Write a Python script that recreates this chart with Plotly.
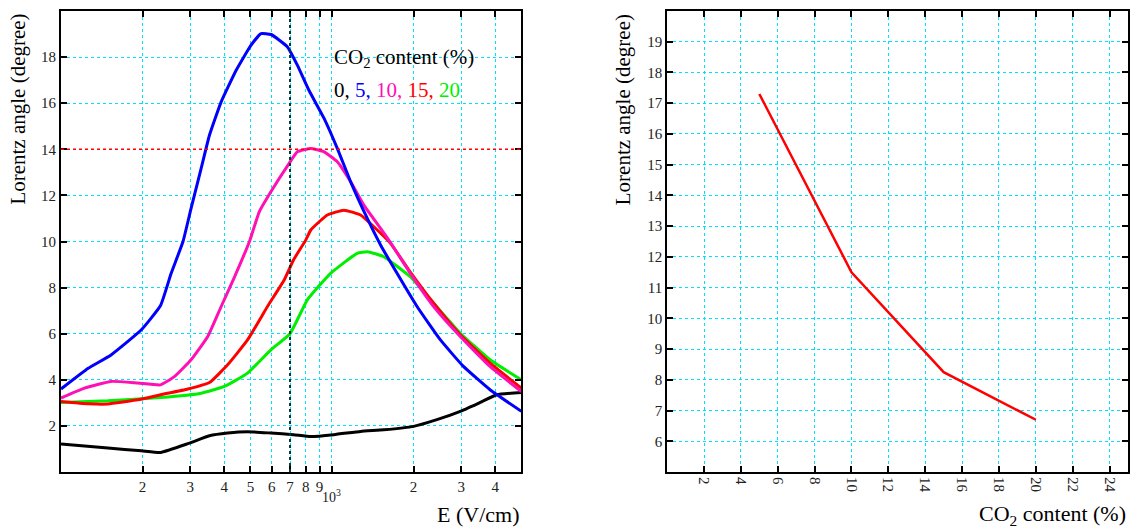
import plotly.graph_objects as go

# ---------------- data ----------------
E0 = [100, 149, 198, 233, 294, 353, 412, 488, 595, 721, 835, 1016, 1275, 1553, 2000, 2438, 2974, 3525, 4056, 5000]
A0 = [1.21, 1.04, 0.92, 0.85, 1.23, 1.57, 1.69, 1.75, 1.69, 1.62, 1.54, 1.62, 1.76, 1.83, 1.98, 2.27, 2.63, 3.02, 3.35, 3.45]

E5 = [100, 126, 153, 198, 233, 255, 282, 302, 329, 353, 390, 443, 502, 547, 596, 685, 745, 822, 935, 1046, 1172, 1350, 1511, 1738, 2060, 2513, 3055, 3830, 5000]
A5 = [3.6, 4.5, 5.08, 6.17, 7.22, 8.62, 10.0, 11.44, 13.17, 14.61, 16.06, 17.43, 18.51, 19.02, 18.98, 18.44, 17.65, 16.56, 15.34, 14.04, 12.59, 11.0, 9.85, 8.62, 7.18, 5.73, 4.58, 3.57, 2.63]

E10 = [100, 122, 153, 192, 233, 262, 302, 348, 390, 437, 496, 539, 595, 695, 745, 835, 935, 1046, 1172, 1311, 1511, 1667, 1945, 2372, 2974, 3830, 5000]
A10 = [3.21, 3.64, 3.93, 3.86, 3.78, 4.14, 4.87, 5.88, 7.18, 8.47, 10.0, 11.29, 12.16, 13.39, 13.89, 14.04, 13.89, 13.46, 12.59, 11.58, 10.57, 9.85, 8.62, 7.18, 5.88, 4.58, 3.49]

E15 = [100, 126, 149, 192, 233, 294, 353, 412, 488, 578, 666, 721, 800, 835, 961, 1107, 1275, 1427, 1644, 1919, 2372, 2974, 3830, 5000]
A15 = [3.06, 2.96, 2.95, 3.13, 3.35, 3.6, 3.88, 4.65, 5.73, 7.18, 8.33, 9.2, 10.06, 10.5, 11.15, 11.36, 11.15, 10.64, 9.92, 8.77, 7.32, 5.95, 4.72, 3.64]

E20 = [100, 149, 233, 329, 401, 488, 595, 700, 811, 988, 1239, 1350, 1553, 1945, 2372, 2974, 3830, 5000]
A20 = [3.02, 3.09, 3.23, 3.42, 3.71, 4.29, 5.3, 6.0, 7.47, 8.62, 9.49, 9.56, 9.34, 8.47, 7.32, 6.02, 4.87, 4.0]

CO2 = [5, 10, 15, 20]
ANGLE_700 = [17.3, 11.5, 8.25, 6.7]

X_TICKS_LEFT = [200, 300, 400, 500, 600, 700, 800, 900, 1000, 2000, 3000, 4000]
X_TICKTEXT_LEFT = ["2", "3", "4", "5", "6", "7", "8", "9", "", "2", "3", "4"]
Y_TICKS_LEFT = [2, 4, 6, 8, 10, 12, 14, 16, 18]
X_TICKS_RIGHT = [2, 4, 6, 8, 10, 12, 14, 16, 18, 20, 22, 24]
Y_TICKS_RIGHT = [6, 7, 8, 9, 10, 11, 12, 13, 14, 15, 16, 17, 18, 19]

# ---------------- styling ----------------
FONT = "Liberation Serif, Times New Roman, serif"
GRID = "#00e1ff"
C0, C5, C10, C15, C20 = "#000000", "#0000ff", "#ff10b4", "#ff0000", "#00ee00"

fig = go.Figure()
for E, A, c in [(E0, A0, C0), (E20, A20, C20), (E15, A15, C15), (E10, A10, C10), (E5, A5, C5)]:
    fig.add_trace(go.Scatter(x=E, y=A, mode="lines", xaxis="x", yaxis="y",
                             line=dict(color=c, width=3, shape="spline", smoothing=0.4),
                             showlegend=False, hoverinfo="skip"))

fig.add_trace(go.Scatter(x=CO2, y=ANGLE_700, mode="lines", xaxis="x2", yaxis="y2",
                         line=dict(color="#ff0000", width=2.5), showlegend=False, hoverinfo="skip"))

axis_common = dict(showline=True, linecolor="black", linewidth=2, mirror="ticks",
                   ticks="inside", ticklen=6, tickwidth=2, tickcolor="black",
                   showgrid=True, gridcolor=GRID, griddash="dot", gridwidth=1,
                   zeroline=False, tickfont=dict(family=FONT, size=15, color="#222"))

fig.update_layout(
    width=1132, height=529,
    margin=dict(l=61, r=2, t=11, b=57),
    paper_bgcolor="white", plot_bgcolor="white",
    xaxis=dict(axis_common, type="log", domain=[0, 0.4315], range=[2, 3.69897],
               tickmode="array", tickvals=X_TICKS_LEFT, ticktext=X_TICKTEXT_LEFT, anchor="y"),
    yaxis=dict(axis_common, range=[0, 20], tickmode="array", tickvals=Y_TICKS_LEFT, anchor="x"),
    xaxis2=dict(axis_common, domain=[0.5681, 1.0], range=[0, 25], tickmode="array",
                tickvals=X_TICKS_RIGHT, tickangle=90, anchor="y2"),
    yaxis2=dict(axis_common, range=[5, 20], tickmode="array", tickvals=Y_TICKS_RIGHT, anchor="x2"),
)

# reference lines
fig.add_shape(type="line", xref="x", yref="y domain", x0=700, x1=700, y0=0, y1=1,
              line=dict(color="#003838", width=2, dash="dot"))
fig.add_shape(type="line", xref="x domain", yref="y", x0=0, x1=1, y0=14, y1=14,
              line=dict(color="#ff0000", width=1.5, dash="dot"))

# text
fig.add_annotation(xref="x", yref="y", x=3.0, y=17.94, xanchor="left", yanchor="middle",
                   text="CO<sub>2</sub> content (%)", showarrow=False,
                   font=dict(family=FONT, size=21, color="black"))
fig.add_annotation(xref="x", yref="y", x=3.0, y=16.56, xanchor="left", yanchor="middle",
                   text=("0, <span style='color:%s'>5,</span> <span style='color:%s'>10,</span> "
                         "<span style='color:%s'>15,</span> <span style='color:%s'>20</span>")
                        % (C5, C10, C15, C20),
                   showarrow=False, font=dict(family=FONT, size=21, color="black"))
fig.add_annotation(xref="x", yref="y domain", x=3.0, y=-0.053, xanchor="center", yanchor="middle",
                   text="10<sup>3</sup>", showarrow=False, font=dict(family=FONT, size=14, color="#222"))

# axis titles
fig.add_annotation(xref="x domain", yref="paper", x=1.0, y=-0.093, xanchor="right", yanchor="middle",
                   text="E (V/cm)", showarrow=False, font=dict(family=FONT, size=22, color="black"))
fig.add_annotation(xref="x2 domain", yref="paper", x=1.0, y=-0.093, xanchor="right", yanchor="middle",
                   text="CO<sub>2</sub> content (%)", showarrow=False,
                   font=dict(family=FONT, size=22, color="black"))
fig.add_annotation(xref="x domain", yref="y domain", x=-0.093, y=0.998, xanchor="center", yanchor="top",
                   textangle=-90, text="Lorentz angle (degree)", showarrow=False,
                   font=dict(family=FONT, size=21, color="black"))
fig.add_annotation(xref="x2 domain", yref="y2 domain", x=-0.094, y=0.998, xanchor="center", yanchor="top",
                   textangle=-90, text="Lorentz angle (degree)", showarrow=False,
                   font=dict(family=FONT, size=21, color="black"))

fig.write_html("out.html")
